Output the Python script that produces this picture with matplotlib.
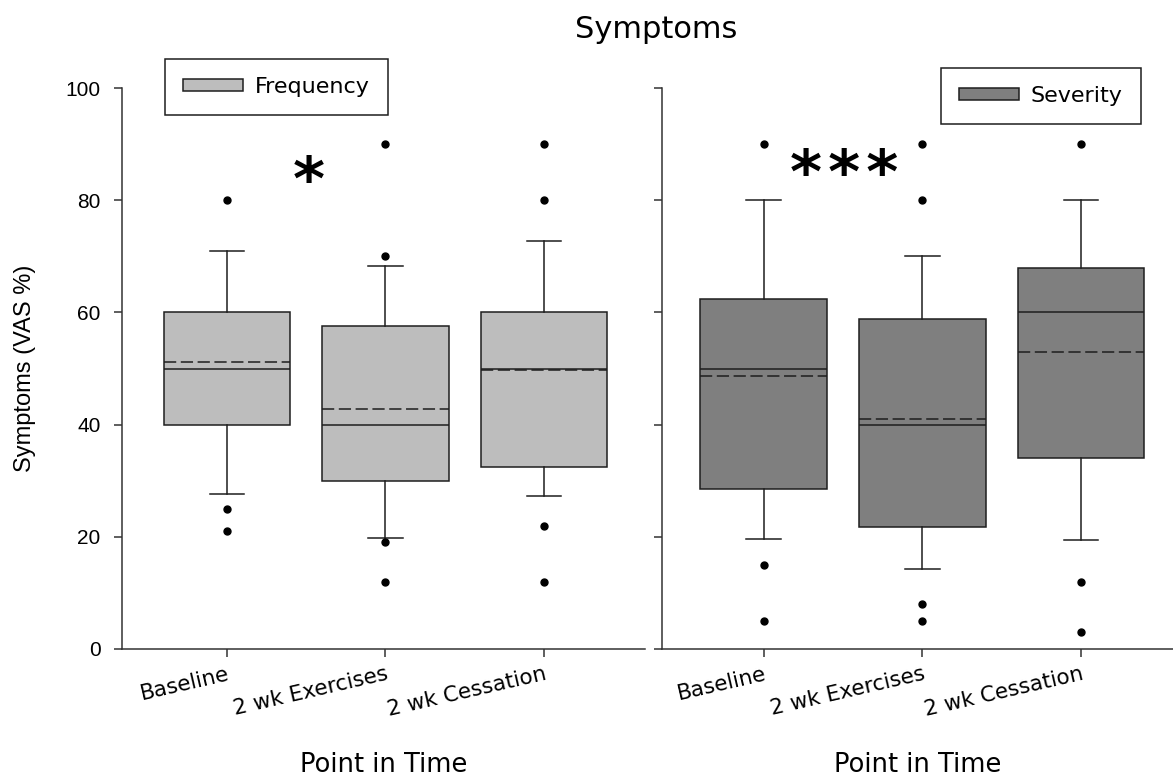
import matplotlib
matplotlib.use("Agg")
import matplotlib.pyplot as plt
from matplotlib.patches import Patch

# ---------------- data ----------------
categories = ["Baseline", "2 wk Exercises", "2 wk Cessation"]
yticks = [0, 20, 40, 60, 80, 100]

freq_q1 = [40.0, 30.0, 32.5]
freq_med = [50.0, 40.0, 50.0]
freq_q3 = [60.0, 57.6, 60.0]
freq_mean = [51.2, 42.8, 49.8]
freq_whislo = [27.6, 19.8, 27.3]
freq_whishi = [71.0, 68.3, 72.8]
freq_fliers = [[80, 25, 21], [90, 70, 19, 12], [90, 80, 22, 12]]

sev_q1 = [28.6, 21.7, 34.0]
sev_med = [50.0, 40.0, 60.0]
sev_q3 = [62.4, 58.9, 68.0]
sev_mean = [48.7, 41.0, 53.0]
sev_whislo = [19.6, 14.3, 19.4]
sev_whishi = [80.0, 70.1, 80.0]
sev_fliers = [[90, 15, 5], [90, 80, 8, 5], [90, 12, 3]]

# ---------------- style ----------------
plt.rcParams['font.family'] = ['DejaVu Sans']
EDGE = '#1e1e1e'
FREQ_COLOR = '#bdbdbd'
SEV_COLOR = '#7f7f7f'
LW = 1.1

W, H = 1173, 778
fig = plt.figure(figsize=(W / 100, H / 100), dpi=100)

ax1 = fig.add_axes([122 / W, 1 - 649 / H, (645 - 122) / W, 561 / H])
ax2 = fig.add_axes([661.6 / W, 1 - 649 / H, (W - 661.6) / W, 561 / H])


def make_stats(q1, med, q3, mean, lo, hi, fl):
    return [dict(q1=q1[i], med=med[i], q3=q3[i], mean=mean[i], whislo=lo[i],
                 whishi=hi[i], fliers=fl[i], label=categories[i])
            for i in range(len(categories))]


def draw(ax, stats, color):
    ax.bxp(stats, positions=[1, 2, 3], widths=0.8, capwidths=0.22,
           patch_artist=True, showmeans=True, meanline=True,
           boxprops=dict(facecolor=color, edgecolor=EDGE, linewidth=LW),
           medianprops=dict(color=EDGE, linewidth=LW),
           meanprops=dict(color=EDGE, linewidth=LW, linestyle=(0, (8, 3))),
           whiskerprops=dict(color=EDGE, linewidth=LW),
           capprops=dict(color=EDGE, linewidth=LW),
           flierprops=dict(marker='o', markerfacecolor='black',
                           markeredgecolor='black', markersize=5))
    ax.set_ylim(0, 100)
    ax.set_yticks(yticks)
    ax.set_xticks([1, 2, 3])
    ax.set_xticklabels(categories, rotation=13, ha='right', va='top',
                       rotation_mode='anchor', fontsize=15.5)
    for s in ['top', 'right']:
        ax.spines[s].set_visible(False)
    for s in ['left', 'bottom']:
        ax.spines[s].set_linewidth(LW)
        ax.spines[s].set_color('#333333')
    ax.tick_params(axis='both', direction='out', length=6, width=LW,
                   color='#333333')
    ax.tick_params(axis='x', pad=5)
    ax.tick_params(axis='y', pad=9.5)
    ax.set_xlabel("Point in Time", fontsize=18.5)
    ax.xaxis.set_label_coords(0.5, -0.183)


draw(ax1, make_stats(freq_q1, freq_med, freq_q3, freq_mean, freq_whislo,
                     freq_whishi, freq_fliers), FREQ_COLOR)
draw(ax2, make_stats(sev_q1, sev_med, sev_q3, sev_mean, sev_whislo,
                     sev_whishi, sev_fliers), SEV_COLOR)

ax1.set_xlim(0.3375, 3.6375)
ax2.set_xlim(0.356, 3.580)

for lab in ax1.get_yticklabels():
    lab.set_family('Liberation Sans')
    lab.set_fontsize(15)
ax2.set_yticklabels([])

ax1.set_ylabel("Symptoms (VAS %)", fontsize=17, family='Liberation Sans')
ax1.yaxis.set_label_coords(-0.165, 0.5)

# legends
leg_kw = dict(loc='upper left', bbox_transform=fig.transFigure,
              borderaxespad=0, fontsize=16, handlelength=2.7,
              handleheight=0.5, handletextpad=0.55, borderpad=0.8,
              fancybox=False, framealpha=1, edgecolor=EDGE)
l1 = ax1.legend(handles=[Patch(facecolor=FREQ_COLOR, edgecolor=EDGE, linewidth=LW,
                               label='Frequency')],
                bbox_to_anchor=(165 / W, 1 - 59 / H), **leg_kw)
l1.get_frame().set_linewidth(LW)
l2 = ax2.legend(handles=[Patch(facecolor=SEV_COLOR, edgecolor=EDGE, linewidth=LW,
                               label='Severity')],
                bbox_to_anchor=(941 / W, 1 - 68 / H), **leg_kw)
l2.get_frame().set_linewidth(LW)

# significance markers
ax1.text(1.517, 80.0, "*", ha='center', va='baseline', fontsize=44,
         fontweight='bold')
ax2.text(1.506, 81.3, "*\u200a*\u200a*", ha='center', va='baseline', fontsize=44,
         fontweight='bold')

fig.text(656 / W, 1 - 30 / H, "Symptoms", ha='center', va='center',
         fontsize=22)

fig.savefig("out.png", dpi=100)
